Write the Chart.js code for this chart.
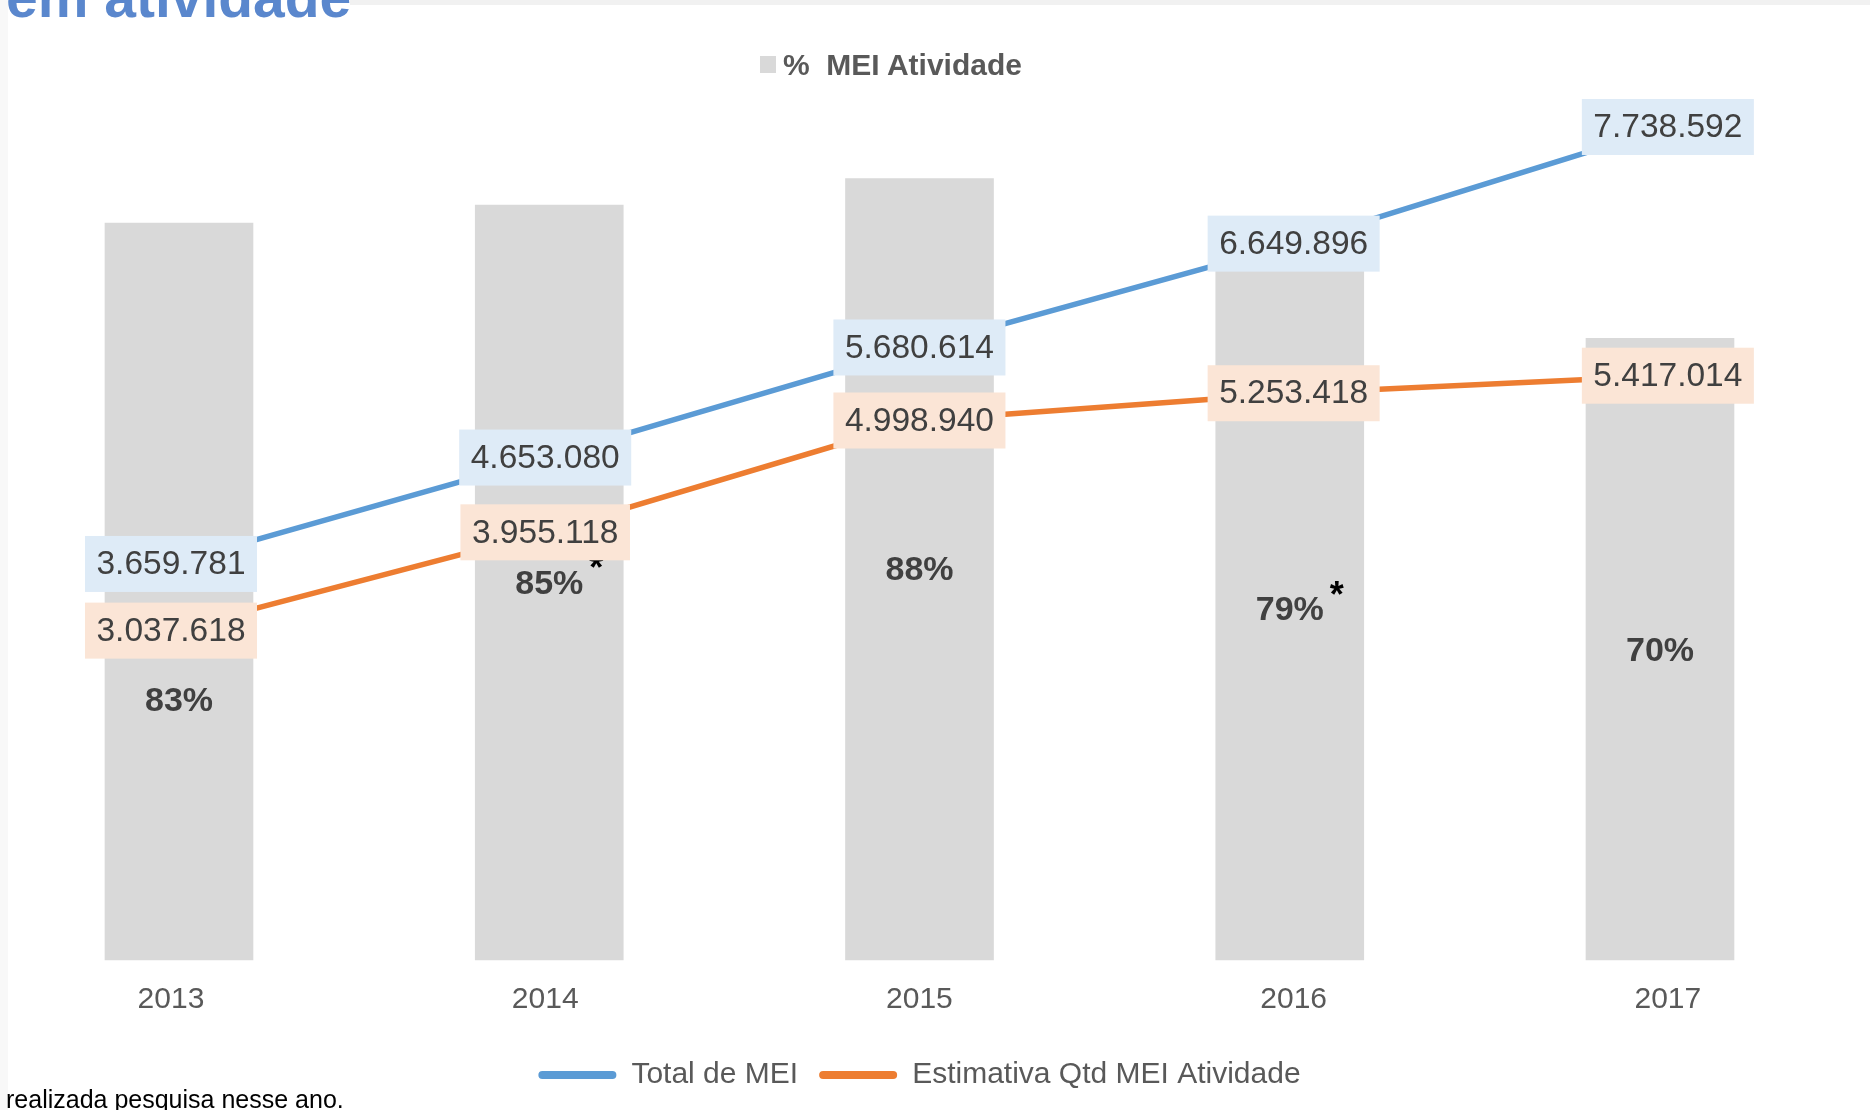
<!DOCTYPE html>
<html>
<head>
<meta charset="utf-8">
<script src="https://cdn.jsdelivr.net/npm/chart.js@4"></script>
<style>
  body { margin: 0; background: #fff; overflow: hidden; }
  #wrap { position: relative; width: 1870px; height: 1110px; font-family: "Liberation Sans", Arial, sans-serif; }
  #chart { position: absolute; left: 0; top: 0; }
  .txt { position: absolute; white-space: pre; }
</style>
</head>
<body>
<div id="wrap">
  <canvas id="chart" width="1870" height="1110"></canvas>
  <div style="position:absolute;left:0;top:0;width:8px;height:1110px;background:#f8f8f8"></div>
  <div style="position:absolute;left:350px;top:0;width:1520px;height:5px;background:#f1f1f1"></div>
  <div class="txt" style="left:6px;top:-31px;font-weight:bold;font-size:57px;line-height:57px;color:#5a87cd">em atividade</div>
  <div style="position:absolute;left:760px;top:56px;width:16px;height:17px;background:#d9d9d9"></div>
  <div class="txt" style="left:783px;top:50px;font-weight:bold;font-size:30px;line-height:30px;color:#595959">%  MEI Atividade</div>
  <div class="txt" style="left:6px;top:1087px;font-size:25px;line-height:25px;color:#000">realizada pesquisa nesse ano.</div>
</div>
<script>
var years = ['2013', '2014', '2015', '2016', '2017'];
var pctAtividade = [0.83, 0.85, 0.88, 0.79, 0.70];
var totalMei = [3659781, 4653080, 5680614, 6649896, 7738592];
var estimativaAtividade = [3037618, 3955118, 4998940, 5253418, 5417014];
var notas = ['', '*', '', '*', ''];

Chart.defaults.font.family = '"Liberation Sans", Arial, sans-serif';

function fmt(v) {
    return String(v).replace(/\B(?=(\d{3})+(?!\d))/g, '.');
}

function pontos(arr) {
    return arr.map(function(v, i) {
        return { x: i, y: v };
    });
}

// data labels: boxed numbers on the lines, percentages on the bars
var labelPlugin = {
    id: 'rotulos',
    afterDatasetsDraw: function(chart, args, opts) {
        var ctx = chart.ctx;
        ctx.save();
        ctx.textAlign = 'center';
        ctx.textBaseline = 'middle';

        var yScale = chart.scales.y;
        var bars = chart.getDatasetMeta(0).data;
        bars.forEach(function(bar, i) {
            var y = yScale.getPixelForValue(opts.pctAt[i]);
            var txt = Math.round(pctAtividade[i] * 100) + '%';
            ctx.font = 'bold 34px "Liberation Sans"';
            ctx.fillStyle = '#404040';
            ctx.fillText(txt, bar.x, y);
            if (notas[i]) {
                var w = ctx.measureText(txt).width;
                ctx.font = 'bold 36px "Liberation Sans"';
                ctx.fillStyle = '#000';
                ctx.textBaseline = 'alphabetic';
                ctx.fillText(notas[i], bar.x + w / 2 + 13, y - 4);
                ctx.textBaseline = 'middle';
            }
        });

        ctx.font = '33.5px "Liberation Sans"';
        [1, 2].forEach(function(di) {
            var ds = chart.data.datasets[di];
            var meta = chart.getDatasetMeta(di);
            meta.data.forEach(function(pt, i) {
                var txt = fmt(ds.data[i].y);
                var w = ctx.measureText(txt).width + 23;
                var h = 56;
                ctx.fillStyle = ds.boxColor;
                ctx.fillRect(pt.x - w / 2, pt.y - h / 2, w, h);
                ctx.fillStyle = '#404040';
                ctx.fillText(txt, pt.x, pt.y + 1);
            });
        });
        ctx.restore();
    }
};

var ctx = document.getElementById('chart').getContext('2d');
var config = {
    type: 'bar',
    data: {
        labels: years,
        datasets: [{
            type: 'bar',
            label: '% MEI Atividade',
            data: pctAtividade,
            xAxisID: 'x',
            yAxisID: 'y',
            backgroundColor: '#d9d9d9',
            barThickness: 148,
            grouped: false,
            clip: false,
            order: 3
        }, {
            type: 'line',
            label: 'Total de MEI',
            data: pontos(totalMei),
            xAxisID: 'x2',
            yAxisID: 'y2',
            borderColor: '#5b9bd5',
            backgroundColor: '#5b9bd5',
            boxColor: '#deebf7',
            borderWidth: 5.5,
            pointRadius: 0,
            tension: 0,
            clip: false,
            order: 1
        }, {
            type: 'line',
            label: 'Estimativa Qtd MEI Atividade',
            data: pontos(estimativaAtividade),
            xAxisID: 'x2',
            yAxisID: 'y2',
            borderColor: '#ed7d31',
            backgroundColor: '#ed7d31',
            boxColor: '#fbe5d6',
            borderWidth: 5.5,
            pointRadius: 0,
            tension: 0,
            clip: false,
            order: 2
        }]
    },
    options: {
        responsive: false,
        devicePixelRatio: 1,
        animation: false,
        layout: { padding: { left: 179, right: 210, top: 72, bottom: 10 } },
        scales: {
            x: {
                type: 'category',
                offset: false,
                grid: { offset: false },
                display: false
            },
            x2: {
                type: 'linear',
                position: 'bottom',
                offset: false,
                min: 0.0214,
                max: 3.979,
                grid: { display: false, offset: false },
                border: { display: false },
                afterBuildTicks: function(scale) {
                    scale.ticks = years.map(function(y, i) {
                        return { value: i };
                    });
                },
                afterFit: function(scale) {
                    scale.height += 7;
                },
                ticks: {
                    color: '#595959',
                    font: { size: 30 },
                    padding: 14,
                    callback: function(v) {
                        return years[v];
                    }
                }
            },
            y: { display: false, min: 0, max: 1 },
            y2: { display: false, min: -37000, max: 8252000 }
        },
        plugins: {
            legend: {
                position: 'bottom',
                labels: {
                    color: '#595959',
                    font: { size: 30 },
                    boxWidth: 78,
                    boxHeight: 8,
                    padding: 21,
                    useBorderRadius: true,
                    borderRadius: 4,
                    generateLabels: function(chart) {
                        var items = Chart.defaults.plugins.legend.labels.generateLabels(chart);
                        return items.filter(function(it) {
                            return it.datasetIndex > 0;
                        }).map(function(it) {
                            it.lineWidth = 0;
                            return it;
                        });
                    }
                }
            },
            tooltip: { enabled: false },
            rotulos: { pctAt: [0.291, 0.423, 0.438, 0.393, 0.347] }
        }
    },
    plugins: [labelPlugin]
};

var chart = new Chart(ctx, config);
</script>
</body>
</html>
